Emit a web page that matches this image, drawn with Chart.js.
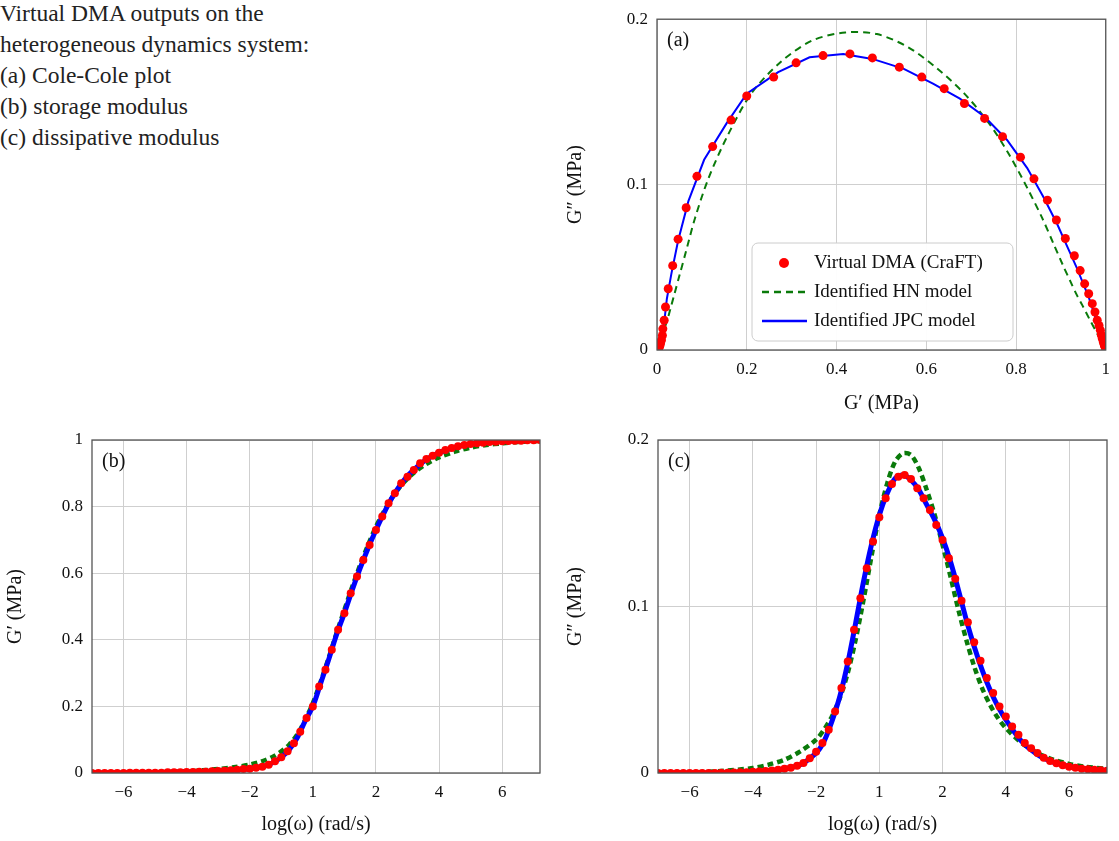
<!DOCTYPE html>
<html><head><meta charset="utf-8">
<script src="https://cdn.jsdelivr.net/npm/chart.js@4.4.1/dist/chart.umd.min.js"></script>
<style>
body{margin:0;width:1119px;height:841px;background:#fff;position:relative;overflow:hidden;font-family:'Liberation Serif',serif}
#title{position:absolute;left:0;top:-2px;font-size:23.5px;line-height:31px;color:#222}
.box{position:absolute}
</style></head><body>
<div id="title">Virtual DMA outputs on the<br>heterogeneous dynamics system:<br>(a) Cole-Cole plot<br>(b) storage modulus<br>(c) dissipative modulus</div>
<div class="box" style="left:560px;top:0;width:559px;height:420px"><canvas id="ca"></canvas></div>
<div class="box" style="left:0;top:420px;width:560px;height:421px"><canvas id="cb"></canvas></div>
<div class="box" style="left:560px;top:420px;width:559px;height:421px"><canvas id="cc"></canvas></div>
<script>
// log(omega) grid of the virtual DMA points
const logW = [-7,-6.8,-6.6,-6.4,-6.2,-6,-5.8,-5.6,-5.4,-5.2,-5,-4.8,-4.6,-4.4,-4.2,-4,
  -3.8,-3.6,-3.4,-3.2,-3,-2.8,-2.6,-2.4,-2.2,
  -2,-1.8,-1.6,-1.4,-1.2,-1,-0.8,-0.6,-0.4,-0.2,0,
  0.2,0.4,0.6,0.8,1,1.2,1.4,1.6,1.8,2,2.2,2.4,2.6,2.8,3,3.2,3.4,3.6,3.8,4,
  4.2,4.4,4.6,4.8,5,5.2,5.4,5.6,5.8,6,6.2,6.4,6.6,6.8,7,7.2];
const dmaStorage = [0,0,0,0,0,0,0.001,0.001,0.001,0.001,0.001,0.001,0.002,0.002,0.002,0.003,
  0.003,0.004,0.004,0.005,0.006,0.007,0.008,0.010,0.012,
  0.013,0.016,0.019,0.025,0.035,0.047,0.065,0.089,0.124,0.165,0.20,
  0.26,0.31,0.37,0.43,0.48,0.54,0.59,0.64,0.685,0.73,0.77,0.81,0.84,0.87,0.89,0.91,0.93,0.943,0.953,0.962,
  0.97,0.976,0.981,0.985,0.988,0.99,0.992,0.994,0.995,0.996,0.997,0.998,0.998,0.999,0.999,1.0];
const dmaLoss = [0,0,0,0,0,0,0,0,0,0,0.0001,0.0002,0.0003,0.0004,0.0005,0.0007,
  0.0009,0.0012,0.0015,0.0019,0.0025,0.0032,0.0044,0.006,0.0088,
  0.0128,0.018,0.026,0.037,0.051,0.067,0.086,0.105,0.123,0.139,0.1536,
  0.165,0.1736,0.178,0.179,0.1766,0.171,0.165,0.158,0.149,0.14,0.129,0.1166,0.1035,0.0906,0.0786,0.0674,0.057,0.048,0.040,0.034,
  0.028,0.023,0.018,0.0148,0.012,0.0092,0.0072,0.0058,0.0047,0.0038,0.0031,0.0026,0.0022,0.0019,0.0016,0.0014];

// model curves grid
const logWm = [-7,-6,-5,-4,-3.5,-3,-2.5,-2,-1.75,-1.5,-1.25,-1,-0.75,-0.5,-0.25,0,0.25,0.5,0.75,1,
  1.25,1.5,1.75,2,2.25,2.5,2.75,3,3.25,3.5,3.75,4,4.5,5,5.5,6,6.5,7.2];
const jpcStorage = [0,0,0.001,0.003,0.004,0.006,0.009,0.013,0.017,0.022,0.032,0.047,0.07,0.105,0.155,0.20,0.27,0.34,0.415,0.48,
  0.55,0.615,0.675,0.73,0.78,0.825,0.862,0.892,0.915,0.935,0.95,0.962,0.978,0.988,0.993,0.996,0.998,1.0];
const hnStorage = [0,0.001,0.002,0.005,0.008,0.012,0.017,0.025,0.031,0.039,0.05,0.065,0.085,0.115,0.158,0.21,0.275,0.345,0.42,0.49,
  0.56,0.625,0.685,0.74,0.785,0.825,0.858,0.884,0.905,0.922,0.936,0.948,0.965,0.977,0.985,0.99,0.994,0.997];
const jpcLoss = [0,0,0.0002,0.0008,0.0014,0.0025,0.005,0.012,0.019,0.031,0.046,0.066,0.09,0.115,0.137,0.155,0.168,0.177,0.179,0.176,
  0.17,0.161,0.152,0.141,0.127,0.11,0.092,0.076,0.062,0.05,0.04,0.032,0.019,0.011,0.0065,0.004,0.0025,0.0015];
const hnLoss = [0,0.0003,0.0012,0.003,0.005,0.008,0.013,0.02,0.026,0.034,0.045,0.06,0.08,0.104,0.13,0.155,0.174,0.187,0.192,0.191,
  0.183,0.17,0.155,0.137,0.118,0.098,0.08,0.064,0.051,0.041,0.033,0.027,0.018,0.012,0.008,0.0055,0.0038,0.0024];

const xTickVals = [-6,-4,-2,0,2,4,6];
const xTickText = ['\u22126','\u22124','\u22122','1','2','4','6'];
const legendNames = ['Virtual DMA (CraFT)','Identified HN model','Identified JPC model'];

const FONT = 'Liberation Serif';
Chart.defaults.font.family = FONT;
Chart.defaults.color = '#111';
const RED = '#ff0000', GREEN = '#0a7a0a', BLUE = '#0000ff';
const TS = 17;
const zip = (a, b) => a.map((v, i) => ({ x: v, y: b[i] }));

const frame = {
  id: 'frame',
  afterDraw(c, args, o) {
    const { ctx, chartArea: a } = c;
    ctx.save();
    ctx.strokeStyle = '#555'; ctx.lineWidth = 1.3;
    ctx.strokeRect(a.left, a.top, a.right - a.left, a.bottom - a.top);
    ctx.fillStyle = '#111'; ctx.font = '20px ' + FONT; ctx.textBaseline = 'alphabetic';
    ctx.fillText(o.tag, a.left + 10, a.top + 27);
    ctx.restore();
  }
};

const legendBox = {
  id: 'legendBox',
  afterDraw(c) {
    const ctx = c.ctx, x = 752 - 560, y = 243, w = 261, h = 98;
    ctx.save();
    ctx.fillStyle = 'rgba(255,255,255,0.95)'; ctx.strokeStyle = '#ccc'; ctx.lineWidth = 1;
    ctx.beginPath(); ctx.roundRect(x, y, w, h, 6); ctx.fill(); ctx.stroke();
    ctx.font = '19px ' + FONT; ctx.fillStyle = '#111'; ctx.textBaseline = 'middle';
    const rows = [y + 20, y + 49, y + 78];
    ctx.fillStyle = RED; ctx.beginPath(); ctx.arc(x + 32, rows[0], 5, 0, Math.PI * 2); ctx.fill();
    ctx.strokeStyle = GREEN; ctx.lineWidth = 2.5; ctx.setLineDash([7, 5]);
    ctx.beginPath(); ctx.moveTo(x + 10, rows[1]); ctx.lineTo(x + 55, rows[1]); ctx.stroke();
    ctx.setLineDash([]); ctx.strokeStyle = BLUE;
    ctx.beginPath(); ctx.moveTo(x + 10, rows[2]); ctx.lineTo(x + 55, rows[2]); ctx.stroke();
    ctx.fillStyle = '#111';
    legendNames.forEach((t, i) => ctx.fillText(t, x + 62, rows[i]));
    ctx.restore();
  }
};

function axes(xOpt, yOpt, yw, xh) {
  const tick = { color: '#111', font: { size: TS } };
  return {
    x: Object.assign({ type: 'linear', grid: { color: '#cfcfcf', drawTicks: false }, border: { display: false },
      ticks: Object.assign({ padding: 9 }, tick), afterFit: s => { s.height = xh; } }, xOpt),
    y: Object.assign({ type: 'linear', grid: { color: '#cfcfcf', drawTicks: false }, border: { display: false },
      ticks: Object.assign({ padding: 9 }, tick), afterFit: s => { s.width = yw; } }, yOpt)
  };
}
const ttl = t => ({ display: true, text: t, color: '#111', font: { size: 20 } });

function omegaX() {
  return { min: -7, max: 7.2, title: ttl('log(\u03c9) (rad/s)'),
    afterBuildTicks: s => { s.ticks = xTickVals.map(v => ({ value: v })); },
    ticks: { color: '#111', font: { size: TS }, padding: 9, callback: v => xTickText[xTickVals.indexOf(v)] } };
}

function sets(dma, jpc, hn, thick) {
  return [
    { data: dma, pointRadius: thick ? 4 : 4.5, pointBackgroundColor: RED, pointBorderWidth: 0, showLine: false, order: 0 },
    { data: jpc, showLine: true, borderColor: BLUE, borderWidth: thick ? 5 : 2, pointRadius: 0, tension: thick ? 0.3 : 0, order: 1 },
    { data: hn, showLine: true, borderColor: GREEN, borderWidth: thick ? 4.5 : 2, borderDash: thick ? [6, 4] : [7, 5], pointRadius: 0, tension: 0.3, order: 2 }
  ];
}
const base = (pad, tag) => ({ responsive: true, maintainAspectRatio: false, animation: false,
  layout: { padding: pad }, plugins: { legend: { display: false }, tooltip: { enabled: false }, frame: { tag } } });
const fmt = v => v === 0 ? '0' : v === 1 ? '1' : v.toFixed(1);

// (a) Cole-Cole
const optA = base({ top: 16, right: 12, left: 0, bottom: 0 }, '(a)');
optA.scales = axes({ min: 0, max: 1, title: ttl('G\u2032 (MPa)'),
  ticks: { color: '#111', font: { size: TS }, padding: 9, stepSize: 0.2, callback: fmt } },
  { min: 0, max: 0.2, title: ttl('G\u2033 (MPa)'),
  ticks: { color: '#111', font: { size: TS }, padding: 9, stepSize: 0.1, callback: fmt } }, 97, 70);
new Chart(document.getElementById('ca'), { type: 'scatter',
  data: { datasets: sets(zip(dmaStorage, dmaLoss), zip(jpcStorage, jpcLoss), zip(hnStorage, hnLoss), false) },
  options: optA, plugins: [frame, legendBox] });

// (b) storage modulus
const optB = base({ top: 20, right: 20, left: 0, bottom: 0 }, '(b)');
optB.scales = axes(omegaX(), { min: 0, max: 1, title: ttl('G\u2032 (MPa)'),
  ticks: { color: '#111', font: { size: TS }, padding: 9, stepSize: 0.2, callback: fmt } }, 92, 68);
new Chart(document.getElementById('cb'), { type: 'scatter',
  data: { datasets: sets(zip(logW, dmaStorage), zip(logWm, jpcStorage), zip(logWm, hnStorage), true) },
  options: optB, plugins: [frame] });

// (c) dissipative modulus
const optC = base({ top: 20, right: 12, left: 0, bottom: 0 }, '(c)');
optC.scales = axes(omegaX(), { min: 0, max: 0.2, title: ttl('G\u2033 (MPa)'),
  ticks: { color: '#111', font: { size: TS }, padding: 9, stepSize: 0.1, callback: fmt } }, 98, 68);
new Chart(document.getElementById('cc'), { type: 'scatter',
  data: { datasets: sets(zip(logW, dmaLoss), zip(logWm, jpcLoss), zip(logWm, hnLoss), true) },
  options: optC, plugins: [frame] });
</script>
</body></html>
